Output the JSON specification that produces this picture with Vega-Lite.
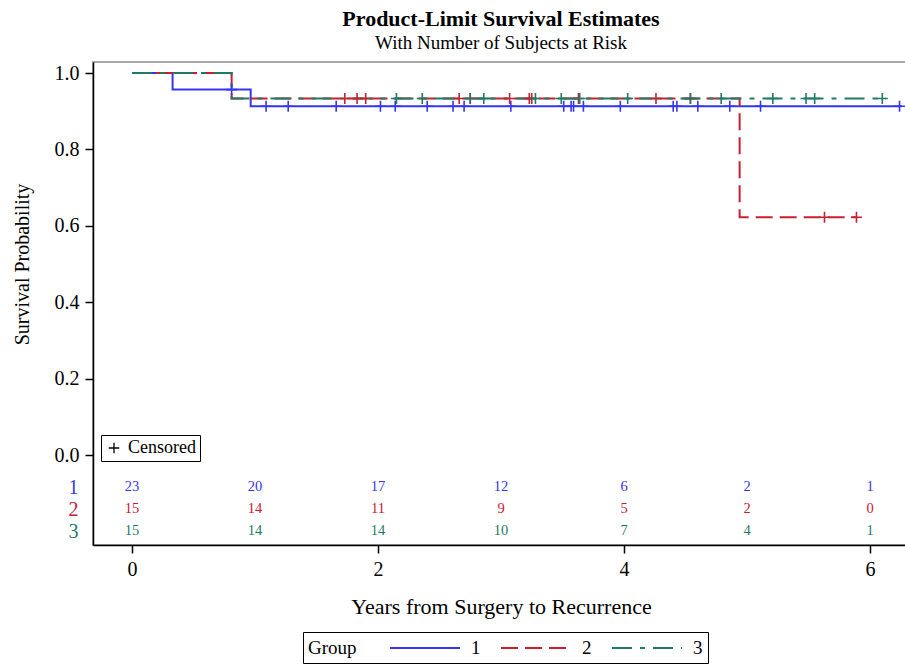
{
  "$schema": "https://vega.github.io/schema/vega-lite/v6.json",
  "autosize": {"type": "none"},
  "padding": {"left": 93, "top": 62, "right": 0, "bottom": 119},
  "width": 816,
  "height": 483,
  "background": "white",
  "config": {
    "font": "Liberation Serif",
    "view": {"stroke": "#8c8c8c", "strokeWidth": 1.5},
    "axis": {"labelFont": "Liberation Serif", "titleFont": "Liberation Serif", "labelColor": "black", "titleColor": "black", "domainColor": "black", "tickColor": "black", "grid": false, "titleFontWeight": "normal"},
    "legend": {"labelFont": "Liberation Serif", "titleFont": "Liberation Serif"}
  },
  "title": {
    "text": "Product-Limit Survival Estimates",
    "subtitle": "With Number of Subjects at Risk",
    "font": "Liberation Serif", "fontSize": 22, "fontWeight": "bold", "color": "black",
    "subtitleFont": "Liberation Serif", "subtitleFontSize": 19, "subtitleColor": "black",
    "anchor": "middle", "offset": 8, "subtitlePadding": 3
  },
  "datasets": {
    "curves": [
      {"group": "1", "t": 0, "s": 1},
      {"group": "1", "t": 0.33, "s": 0.9565},
      {"group": "1", "t": 0.965, "s": 0.913},
      {"group": "1", "t": 6.26, "s": 0.913},
      {"group": "2", "t": 0, "s": 1},
      {"group": "2", "t": 0.81, "s": 0.9333},
      {"group": "2", "t": 4.94, "s": 0.6222},
      {"group": "2", "t": 5.89, "s": 0.6222},
      {"group": "3", "t": 0, "s": 1},
      {"group": "3", "t": 0.81, "s": 0.9333},
      {"group": "3", "t": 6.13, "s": 0.9333}
    ],
    "censored": [
      {"group": "1", "t": 0.81, "s": 0.9565},
      {"group": "1", "t": 1.09, "s": 0.913},
      {"group": "1", "t": 1.27, "s": 0.913},
      {"group": "1", "t": 1.66, "s": 0.913},
      {"group": "1", "t": 2.02, "s": 0.913},
      {"group": "1", "t": 2.14, "s": 0.913},
      {"group": "1", "t": 2.40, "s": 0.913},
      {"group": "1", "t": 2.61, "s": 0.913},
      {"group": "1", "t": 2.70, "s": 0.913},
      {"group": "1", "t": 3.08, "s": 0.913},
      {"group": "1", "t": 3.51, "s": 0.913},
      {"group": "1", "t": 3.57, "s": 0.913},
      {"group": "1", "t": 3.59, "s": 0.913},
      {"group": "1", "t": 3.67, "s": 0.913},
      {"group": "1", "t": 3.97, "s": 0.913},
      {"group": "1", "t": 4.40, "s": 0.913},
      {"group": "1", "t": 4.43, "s": 0.913},
      {"group": "1", "t": 4.60, "s": 0.913},
      {"group": "1", "t": 4.86, "s": 0.913},
      {"group": "1", "t": 5.11, "s": 0.913},
      {"group": "1", "t": 6.24, "s": 0.913},
      {"group": "2", "t": 1.73, "s": 0.9333},
      {"group": "2", "t": 1.83, "s": 0.9333},
      {"group": "2", "t": 1.90, "s": 0.9333},
      {"group": "2", "t": 2.66, "s": 0.9333},
      {"group": "2", "t": 2.75, "s": 0.9333},
      {"group": "2", "t": 3.07, "s": 0.9333},
      {"group": "2", "t": 3.23, "s": 0.9333},
      {"group": "2", "t": 3.25, "s": 0.9333},
      {"group": "2", "t": 3.63, "s": 0.9333},
      {"group": "2", "t": 4.26, "s": 0.9333},
      {"group": "2", "t": 4.54, "s": 0.9333},
      {"group": "2", "t": 5.63, "s": 0.6222},
      {"group": "2", "t": 5.89, "s": 0.6222},
      {"group": "3", "t": 2.15, "s": 0.9333},
      {"group": "3", "t": 2.36, "s": 0.9333},
      {"group": "3", "t": 2.75, "s": 0.9333},
      {"group": "3", "t": 2.86, "s": 0.9333},
      {"group": "3", "t": 3.28, "s": 0.9333},
      {"group": "3", "t": 3.49, "s": 0.9333},
      {"group": "3", "t": 3.64, "s": 0.9333},
      {"group": "3", "t": 4.03, "s": 0.9333},
      {"group": "3", "t": 4.54, "s": 0.9333},
      {"group": "3", "t": 4.79, "s": 0.9333},
      {"group": "3", "t": 5.21, "s": 0.9333},
      {"group": "3", "t": 5.48, "s": 0.9333},
      {"group": "3", "t": 5.55, "s": 0.9333},
      {"group": "3", "t": 6.10, "s": 0.9333}
    ],
    "atrisk": [
      {"group": "1", "t": 0, "n": 23}, {"group": "1", "t": 1, "n": 20}, {"group": "1", "t": 2, "n": 17}, {"group": "1", "t": 3, "n": 12}, {"group": "1", "t": 4, "n": 6}, {"group": "1", "t": 5, "n": 2}, {"group": "1", "t": 6, "n": 1},
      {"group": "2", "t": 0, "n": 15}, {"group": "2", "t": 1, "n": 14}, {"group": "2", "t": 2, "n": 11}, {"group": "2", "t": 3, "n": 9}, {"group": "2", "t": 4, "n": 5}, {"group": "2", "t": 5, "n": 2}, {"group": "2", "t": 6, "n": 0},
      {"group": "3", "t": 0, "n": 15}, {"group": "3", "t": 1, "n": 14}, {"group": "3", "t": 2, "n": 14}, {"group": "3", "t": 3, "n": 10}, {"group": "3", "t": 4, "n": 7}, {"group": "3", "t": 5, "n": 4}, {"group": "3", "t": 6, "n": 1}
    ]
  },
  "layer": [
    {
      "layer": [
        {
          "data": {"name": "curves"},
          "mark": {"type": "line", "interpolate": "step-after", "strokeWidth": 2, "clip": true},
          "encoding": {
            "x": {
              "field": "t", "type": "quantitative",
              "scale": {"domain": [-0.317, 6.317], "nice": false, "zero": false},
              "axis": {"values": [0, 2, 4, 6], "format": "d", "title": "Years from Surgery to Recurrence", "titleFontSize": 22, "labelFontSize": 20, "tickSize": 8, "labelPadding": 6, "titlePadding": 17, "domainWidth": 1.5, "tickWidth": 1.5}
            },
            "y": {
              "field": "s", "type": "quantitative",
              "scale": {"domain": [-0.2356, 1.0288], "nice": false, "zero": false},
              "axis": {"orient": "left", "values": [0, 0.2, 0.4, 0.6, 0.8, 1], "format": ".1f", "title": "Survival Probability", "titleFontSize": 20, "labelFontSize": 20, "tickSize": 8, "labelPadding": 6, "titlePadding": 22, "titleY": 202, "domainWidth": 1.5, "tickWidth": 1.5}
            },
            "color": {
              "field": "group", "type": "nominal",
              "scale": {"domain": ["1", "2", "3"], "range": ["#3636f2", "#c8202f", "#1f7a66"]},
              "legend": {"orient": "none", "legendX": 210, "legendY": 570, "direction": "horizontal", "title": "Group", "titleOrient": "left", "titleAnchor": "middle", "titleBaseline": "middle", "titleFontSize": 19, "titleFontWeight": "normal", "titleColor": "black", "labelFontSize": 19, "labelColor": "black", "symbolType": "M-3.5,0H3.5", "symbolSize": 400, "symbolStrokeWidth": 2, "strokeColor": "black", "padding": 5, "columnPadding": 16, "labelOffset": 35, "titlePadding": 57}
            },
            "strokeDash": {
              "field": "group", "type": "nominal",
              "scale": {"domain": ["1", "2", "3"], "range": [[1, 0], [17, 7], [20, 8, 5, 8]]},
              "legend": {"orient": "none", "legendX": 210, "legendY": 570, "direction": "horizontal", "title": "Group", "titleOrient": "left", "symbolType": "M-3.5,0H3.5", "symbolSize": 400}
            }
          }
        },
        {
          "data": {"name": "censored"},
          "mark": {"type": "point", "filled": false, "strokeWidth": 1.6, "size": 121, "opacity": 1},
          "encoding": {
            "x": {"field": "t", "type": "quantitative"},
            "y": {"field": "s", "type": "quantitative"},
            "color": {"field": "group", "type": "nominal", "legend": null},
            "shape": {
              "datum": "Censored", "type": "nominal",
              "scale": {"range": ["M-1,0H1M0,-1V1"]},
              "legend": {"orient": "none", "legendX": 8, "legendY": 373, "title": null, "labelFontSize": 18, "labelColor": "black", "symbolSize": 110, "symbolStrokeColor": "black", "symbolStrokeWidth": 1.3, "symbolFillColor": "transparent", "strokeColor": "black", "padding": 4, "labelOffset": 5}
            }
          }
        }
      ]
    },
    {
      "data": {"name": "atrisk"},
      "mark": {"type": "text", "fontSize": 14.5, "font": "Liberation Serif", "baseline": "middle"},
      "encoding": {
        "x": {"field": "t", "type": "quantitative"},
        "y": {
          "field": "group", "type": "ordinal",
          "scale": {"type": "point", "domain": ["1", "2", "3"], "range": [425, 469], "padding": 0},
          "axis": {"orient": "left", "title": null, "domain": false, "ticks": false, "tickSize": 0, "labelFontSize": 20, "labelPadding": 15,
            "labelColor": {"condition": [{"test": "datum.value === '1'", "value": "#3636f2"}, {"test": "datum.value === '2'", "value": "#c8202f"}], "value": "#1f7a66"}}
        },
        "text": {"field": "n", "type": "quantitative"},
        "color": {"field": "group", "type": "nominal", "legend": null}
      }
    }
  ],
  "resolve": {"scale": {"y": "independent"}}
}
